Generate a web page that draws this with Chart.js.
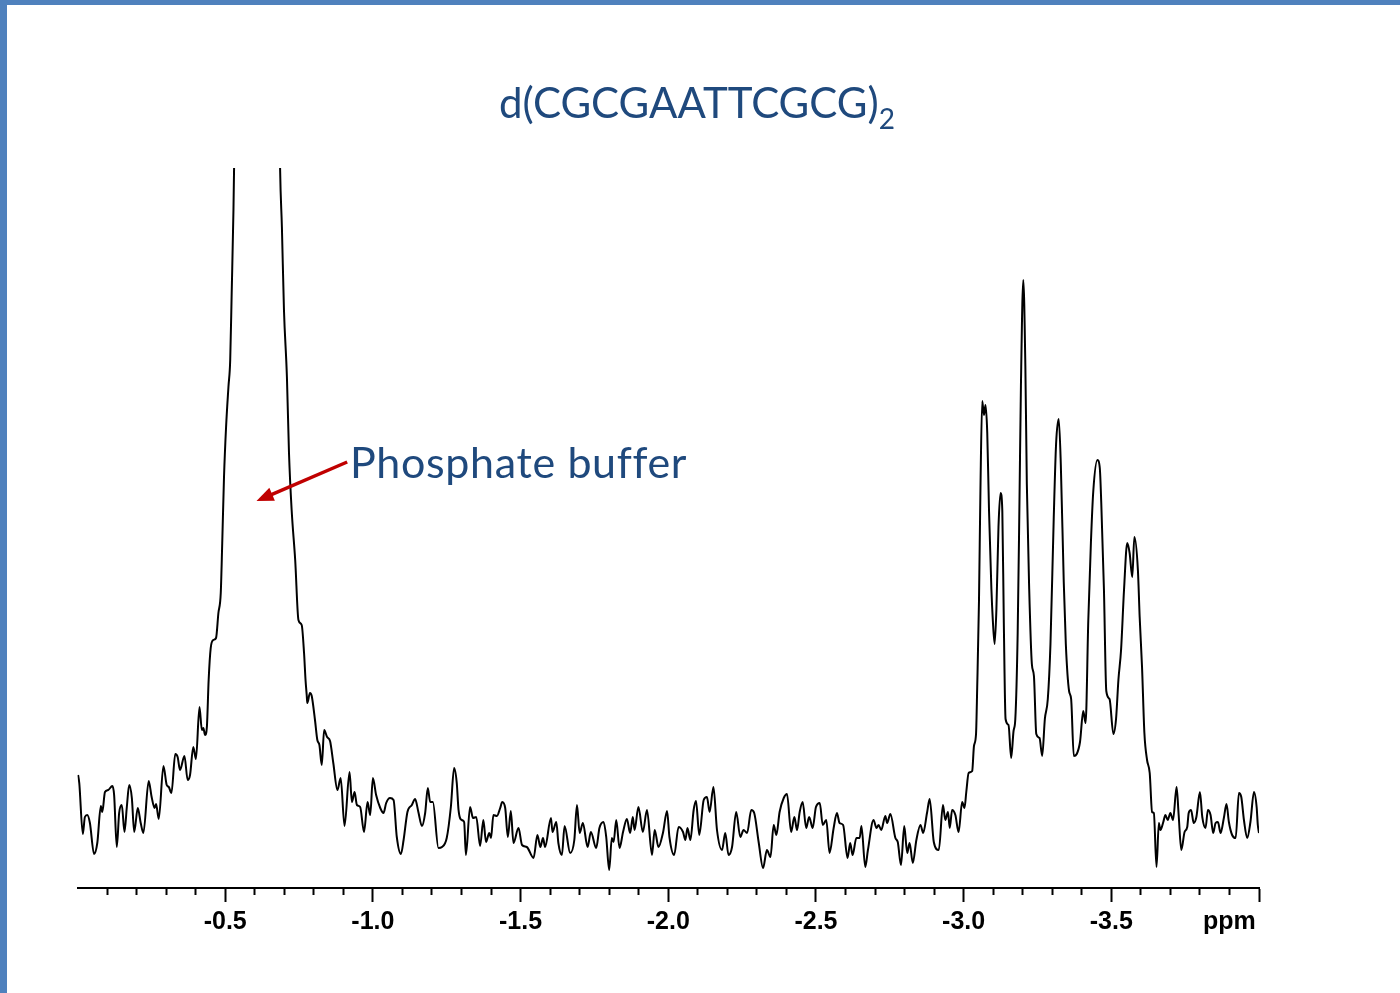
<!DOCTYPE html>
<html>
<head>
<meta charset="utf-8">
<title>d(CGCGAATTCGCG)2 spectrum</title>
<script src="https://cdn.jsdelivr.net/npm/chart.js@4.4.1/dist/chart.umd.min.js"></script>
<style>
  html, body { margin: 0; padding: 0; background: #fff; }
  #page { position: relative; width: 1400px; height: 993px; overflow: hidden; background: #fff; }
  #spectrum { position: absolute; left: 0; top: 0; }
  .bar-top { position: absolute; left: 0; top: 0; width: 1400px; height: 5px; background: #4f81bd; }
  .bar-left { position: absolute; left: 0; top: 0; width: 7px; height: 993px; background: #4f81bd; }
  .title {
    position: absolute; left: 0; top: 81px; width: 1394px; text-align: center;
    font-family: Lato, "Open Sans", sans-serif; font-size: 42px; line-height: 42px; color: #1f497d;
  }
  .title .sub { font-size: 28px; vertical-align: -11px; }
  .note {
    position: absolute; left: 350px; top: 440px; white-space: nowrap;
    font-family: Lato, "Open Sans", sans-serif; font-size: 43px; line-height: 43px;
    letter-spacing: 0.65px; color: #1f497d;
  }
</style>
</head>
<body>
<div id="page">
  <canvas id="spectrum" width="1400" height="993"></canvas>
  <div class="bar-top"></div>
  <div class="bar-left"></div>
  <div class="title">d(CGCGAATTCGCG)<span class="sub">2</span></div>
  <div class="note">Phosphate buffer</div>
</div>
<script>
// chemical shift (ppm) left to right
const ppmValues = [
  // baseline left of the buffer
  -0.002, -0.006, -0.018, -0.025, -0.033, -0.042, -0.056, -0.067, -0.079, -0.084,
  -0.093, -0.104, -0.118, -0.124, -0.133, -0.141, -0.150, -0.159, -0.167, -0.175,
  -0.184, -0.192, -0.204, -0.214, -0.223, -0.241, -0.251, -0.261, -0.266, -0.275,
  -0.291, -0.302, -0.309, -0.318, -0.331, -0.339, -0.347, -0.362, -0.373, -0.381,
  -0.392, -0.401, -0.413, -0.421, -0.426, -0.432, -0.438, -0.444,
  // phosphate buffer peak (top is off scale)
  -0.451, -0.460, -0.469, -0.477, -0.485, -0.490, -0.496, -0.503, -0.511, -0.517,
  -0.522, -0.528, -0.530, -0.608, -0.686, -0.692, -0.699, -0.709, -0.716, -0.725,
  -0.737, -0.748, -0.759, -0.767, -0.772, -0.776, -0.778, -0.787, -0.793, -0.804,
  -0.812, -0.819, -0.827, -0.835, -0.845, -0.855,
  // baseline
  -0.866, -0.880, -0.891, -0.904, -0.921, -0.929, -0.938, -0.946, -0.957, -0.970,
  -0.982, -0.991, -1.000, -1.011, -1.025, -1.036, -1.045, -1.058, -1.070, -1.081,
  -1.095, -1.104, -1.117, -1.132, -1.143, -1.154, -1.166, -1.177, -1.186, -1.194,
  -1.203, -1.222, -1.234, -1.250, -1.264, -1.275, -1.284, -1.290, -1.301, -1.309,
  -1.315, -1.329, -1.339, -1.350, -1.363, -1.374, -1.383, -1.394, -1.400, -1.408,
  -1.420, -1.431, -1.438, -1.448, -1.457, -1.467, -1.476, -1.493, -1.505, -1.521,
  -1.544, -1.557, -1.567, -1.576, -1.583, -1.603, -1.608, -1.621, -1.628, -1.640,
  -1.649, -1.668,
  -1.682, -1.691, -1.700, -1.711, -1.727, -1.738, -1.756, -1.767, -1.781, -1.790,
  -1.800, -1.809, -1.815, -1.824, -1.835, -1.847, -1.860, -1.871, -1.880, -1.886,
  -1.899, -1.914, -1.928, -1.945, -1.954, -1.967, -1.982, -1.996, -2.004, -2.020,
  -2.035, -2.050, -2.058, -2.065, -2.075, -2.086, -2.094, -2.105, -2.120, -2.131,
  -2.140, -2.153, -2.165, -2.182, -2.193, -2.204, -2.216, -2.230, -2.244, -2.255,
  -2.267, -2.281, -2.291, -2.306, -2.321, -2.334, -2.346, -2.357, -2.366, -2.377,
  -2.391, -2.402, -2.416, -2.427, -2.436, -2.445, -2.455, -2.467, -2.477, -2.489,
  -2.500, -2.513, -2.523, -2.535,
  -2.546, -2.560, -2.571, -2.580, -2.592, -2.607, -2.616, -2.624, -2.637, -2.648,
  -2.654, -2.667, -2.676, -2.695, -2.705, -2.712, -2.721, -2.735, -2.741, -2.752,
  -2.769, -2.777, -2.788, -2.799, -2.809, -2.817, -2.828, -2.840, -2.854, -2.863,
  -2.876, -2.885, -2.899, -2.916, -2.930, -2.938, -2.947, -2.953, -2.961, -2.972,
  -2.983, -2.995, -3.003, -3.009, -3.017, -3.029, -3.035, -3.042,
  // DNA backbone phosphates
  -3.046, -3.052, -3.057, -3.063, -3.069, -3.074, -3.080, -3.086, -3.094, -3.099,
  -3.105, -3.111, -3.118, -3.125, -3.131, -3.136, -3.142, -3.152, -3.161, -3.169,
  -3.175, -3.183, -3.189, -3.194, -3.202, -3.209, -3.214, -3.222, -3.231, -3.238,
  -3.246, -3.257, -3.266, -3.275, -3.285, -3.294, -3.305, -3.313, -3.322, -3.329,
  -3.339, -3.346, -3.357, -3.364, -3.373, -3.383, -3.394, -3.405, -3.413, -3.422,
  -3.431, -3.439, -3.453, -3.461, -3.466, -3.475, -3.483, -3.494, -3.507, -3.516,
  -3.524, -3.533, -3.543, -3.554, -3.562, -3.571, -3.578, -3.590, -3.596, -3.604,
  -3.612, -3.621, -3.630, -3.638, -3.644, -3.653,
  // baseline right
  -3.661, -3.666, -3.676, -3.683, -3.691, -3.700, -3.709, -3.721, -3.728, -3.737,
  -3.748, -3.757, -3.762, -3.770, -3.779, -3.788, -3.800, -3.808, -3.819, -3.827,
  -3.836, -3.845, -3.853, -3.861, -3.870, -3.881, -3.890, -3.898, -3.909, -3.921,
  -3.932, -3.940, -3.949, -3.960, -3.971, -3.983, -3.992, -3.996, -4.000
];

// intensity (arbitrary units), same order
const intensityValues = [
  113, 105, 54, 71, 73, 65, 34, 45, 82, 76,
  96, 98, 102, 93, 41, 75, 83, 56, 81, 103,
  90, 56, 80, 65, 55, 107, 91, 80, 84, 69,
  122, 103, 101, 95, 134, 131, 118, 132, 108, 113,
  141, 129, 181, 158, 160, 153, 161, 208,
  240, 248, 250, 275, 295, 345, 411, 461, 501, 528,
  595, 678, 718, 2600, 718, 661, 578, 511, 435, 378,
  328, 268, 263, 235, 208, 193, 185, 195, 192, 168,
  148, 143, 123, 158, 151, 147,
  125, 98, 110, 62, 116, 86, 96, 83, 81, 56,
  86, 73, 110, 93, 80, 75, 85, 90, 88, 51,
  34, 48, 76, 83, 89, 76, 62, 75, 100, 86,
  86, 40, 41, 50, 81, 120, 105, 78, 68, 66,
  33, 81, 70, 71, 42, 68, 46, 55, 50, 73,
  72, 80, 86, 80, 51, 77, 45, 60, 43, 41,
  30, 53, 41, 50, 41, 70, 56, 66, 45, 33,
  62, 35,
  48, 83, 55, 65, 41, 56, 40, 60, 66, 51,
  18, 50, 46, 68, 40, 56, 69, 55, 71, 58,
  81, 56, 78, 33, 58, 41, 55, 77, 51, 33,
  61, 56, 48, 60, 48, 78, 87, 53, 88, 91,
  76, 101, 58, 38, 55, 33, 41, 76, 51, 58,
  55, 78, 75, 46, 20, 38, 31, 63, 53, 76,
  90, 94, 56, 71, 58, 76, 86, 60, 71, 60,
  81, 85, 63, 68,
  35, 60, 75, 65, 63, 30, 45, 33, 50, 50,
  62, 21, 38, 68, 60, 63, 58, 72, 65, 74,
  50, 46, 23, 62, 35, 45, 25, 48, 63, 55,
  75, 89, 46, 38, 83, 68, 76, 60, 78, 73,
  56, 86, 80, 96, 115, 117, 142, 154,
  201, 287, 400, 487, 473, 483, 455, 377, 299, 267,
  244, 279, 361, 395, 377, 267, 169, 163, 130, 157,
  169, 255, 385, 502, 608, 522, 404, 299, 224, 212,
  154, 150, 132, 169, 189, 244, 369, 444, 469, 424,
  306, 244, 197, 189, 132, 134, 146, 177, 165, 267,
  346, 397, 428, 420, 385, 299, 197, 189, 154, 169,
  208, 238, 298, 345, 335, 311, 351, 318, 271, 221,
  155, 128, 115, 76, 75, 21,
  65, 58, 66, 73, 68, 75, 68, 101, 73, 38,
  56, 61, 75, 78, 65, 71, 96, 71, 60, 78,
  73, 55, 65, 66, 55, 70, 84, 66, 53, 50,
  95, 91, 68, 50, 66, 96, 81, 63, 55
];

const labelledTicks = [-0.5, -1.0, -1.5, -2.0, -2.5, -3.0, -3.5];
// the unit sits right-aligned at the end of the axis, under the last minor tick
const axisUnit = 'ppm';
const unitTick = -3.9;

// arrow from the label to the buffer peak, in data units [ppm, intensity]
const arrowTail = [-0.913, 426];
const arrowHead = [-0.606, 387];

function isMajor(v) {
  return Math.abs(v * 2 - Math.round(v * 2)) < 1e-6;
}

const arrowPlugin = {
  id: 'bufferArrow',
  afterDatasetsDraw(chart) {
    const { ctx, scales: { x, y } } = chart;
    const x1 = x.getPixelForValue(arrowTail[0]), y1 = y.getPixelForValue(arrowTail[1]);
    const x2 = x.getPixelForValue(arrowHead[0]), y2 = y.getPixelForValue(arrowHead[1]);
    const ang = Math.atan2(y2 - y1, x2 - x1);
    const headLen = 17, half = 7;
    const bx = x2 - headLen * Math.cos(ang), by = y2 - headLen * Math.sin(ang);
    ctx.save();
    ctx.strokeStyle = '#c00000';
    ctx.fillStyle = '#c00000';
    ctx.lineWidth = 3.5;
    ctx.beginPath();
    ctx.moveTo(x1, y1);
    ctx.lineTo(bx + 2 * Math.cos(ang), by + 2 * Math.sin(ang));
    ctx.stroke();
    ctx.beginPath();
    ctx.moveTo(x2, y2);
    ctx.lineTo(bx + half * Math.sin(ang), by - half * Math.cos(ang));
    ctx.lineTo(bx - half * Math.sin(ang), by + half * Math.cos(ang));
    ctx.closePath();
    ctx.fill();
    ctx.restore();
  }
};

const axisFont = { family: '"Liberation Sans", Arial, sans-serif', size: 25, weight: 'bold' };

new Chart(document.getElementById('spectrum'), {
  type: 'line',
  data: {
    datasets: [{
      data: ppmValues.map((p, i) => ({ x: p, y: intensityValues[i] })),
      borderColor: '#000',
      borderWidth: 2,
      pointRadius: 0,
      cubicInterpolationMode: 'monotone',
      fill: false
    }]
  },
  options: {
    responsive: false,
    animation: false,
    events: [],
    layout: { padding: { top: 168, left: 77.5, right: 141, bottom: 0 } },
    plugins: {
      legend: { display: false },
      tooltip: { enabled: false }
    },
    scales: {
      x: {
        type: 'linear',
        reverse: true,
        min: -4,
        max: 0,
        afterFit(scale) { scale.height = 105; },
        border: { display: true, color: '#000', width: 2 },
        grid: {
          drawOnChartArea: false,
          drawTicks: true,
          tickLength: 14,
          tickWidth: 2,
          tickColor: (c) => (c.tick && c.tick.value === 0 ? 'rgba(0,0,0,0)' : '#000'),
          tickBorderDash: (c) => (c.tick && isMajor(c.tick.value) ? [] : [6, 40])
        },
        ticks: {
          stepSize: 0.1,
          maxTicksLimit: 100,
          autoSkip: false,
          maxRotation: 0,
          padding: 5,
          color: '#000',
          font: axisFont,
          callback: (v) => {
            if (Math.abs(v - unitTick) < 1e-6) return axisUnit;
            return labelledTicks.some((t) => Math.abs(t - v) < 1e-6) ? v.toFixed(1) : '';
          }
        }
      },
      y: { display: false, min: 0, max: 720 }
    }
  },
  plugins: [arrowPlugin]
});
</script>
</body>
</html>
